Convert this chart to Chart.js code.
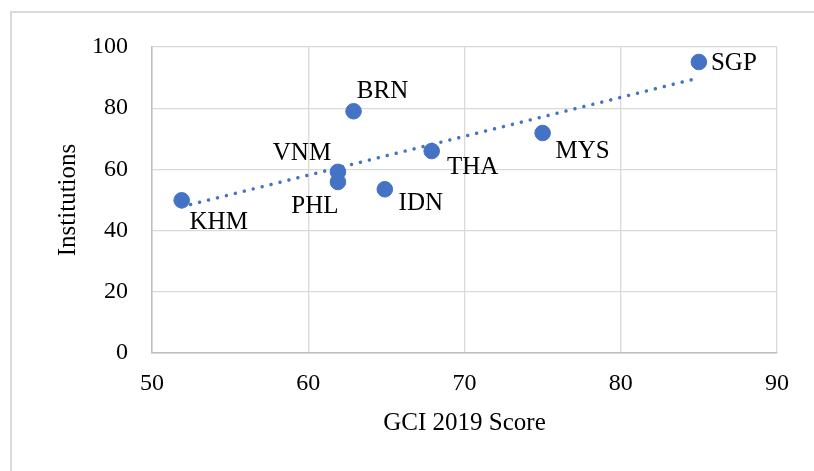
<!DOCTYPE html>
<html>
<head>
<meta charset="utf-8">
<script src="https://cdn.jsdelivr.net/npm/chart.js@4.4.0/dist/chart.umd.min.js"></script>
<style>
    html, body { margin: 0; padding: 0; background: #ffffff; }
    #wrap { position: relative; width: 814px; height: 471px; overflow: hidden; }
    #frame { position: absolute; left: 10px; top: 11px; width: 900px; height: 600px; border: 2px solid #d9d9d9; box-sizing: border-box; }
    canvas { position: absolute; left: 0; top: 0; }
</style>
</head>
<body>
<div id="wrap">
    <div id="frame"></div>
    <canvas id="scatterChart" width="814" height="471"></canvas>
</div>
<script>
// Country codes and their scores
const countries = ["KHM", "PHL", "VNM", "BRN", "IDN", "THA", "MYS", "SGP"];
const gciScore = [51.9, 61.9, 61.9, 62.9, 64.9, 67.9, 75.0, 85.0];
const institutions = [49.9, 55.9, 59.2, 79.0, 53.5, 66.0, 71.9, 95.1];

// Linear trendline ends
const trendX = [51.9, 85.0];
const trendY = [47.8, 89.9];

// Axis ticks
const xTicks = [50, 60, 70, 80, 90];
const yTicks = [0, 20, 40, 60, 80, 100];

// Where each data label sits relative to its point (px)
const labelOffsets = [[37, 21], [-23, 23], [-36, -19], [29, -21], [36, 13], [41, 15], [40, 17], [35, 0]];

const FONT = "'Liberation Serif', 'Times New Roman', serif";

// ===============================
// Data labels plugin
// ===============================
const pointLabels = {
    id: "pointLabels",
    afterDatasetsDraw(chart) {
        const ctx = chart.ctx;
        const meta = chart.getDatasetMeta(1);
        ctx.save();
        ctx.font = "25px " + FONT;
        ctx.fillStyle = "#000000";
        ctx.textAlign = "center";
        ctx.textBaseline = "middle";
        meta.data.forEach((pt, i) => {
            const off = labelOffsets[i];
            ctx.fillText(countries[i], pt.x + off[0], pt.y + off[1] + 1);
        });
        ctx.restore();
    }
};

new Chart(document.getElementById("scatterChart"), {
    type: "scatter",
    data: {
        datasets: [
            {
                type: "line",
                data: trendX.map((x, i) => ({ x: x, y: trendY[i] })),
                borderColor: "#4472C4",
                borderWidth: 3.5,
                borderDash: [0.01, 9.2],
                borderCapStyle: "round",
                pointRadius: 0,
                fill: false,
                order: 2
            },
            {
                data: gciScore.map((x, i) => ({ x: x, y: institutions[i] })),
                backgroundColor: "#4472C4",
                borderColor: "#4472C4",
                pointRadius: 7.8,
                pointHoverRadius: 7.8,
                order: 1
            }
        ]
    },
    options: {
        responsive: false,
        animation: false,
        layout: { padding: { top: 47, right: 37, left: 0, bottom: 0 } },
        plugins: {
            legend: { display: false },
            tooltip: { enabled: false }
        },
        scales: {
            x: {
                type: "linear",
                min: 50,
                max: 90,
                afterBuildTicks: scale => { scale.ticks = xTicks.map(v => ({ value: v })); },
                afterFit: scale => { scale.height = 118; },
                grid: { color: "#d9d9d9", lineWidth: 1.3, drawTicks: false },
                border: { color: "#bfbfbf", width: 1.5 },
                ticks: { color: "#000000", font: { family: FONT, size: 24 }, padding: 16 },
                title: {
                    display: true,
                    text: "GCI 2019 Score",
                    color: "#000000",
                    font: { family: FONT, size: 25 },
                    padding: { top: 0, bottom: 33 }
                }
            },
            y: {
                type: "linear",
                min: 0,
                max: 100,
                afterBuildTicks: scale => { scale.ticks = yTicks.map(v => ({ value: v })); },
                afterFit: scale => { scale.width = 152; },
                grid: { color: "#d9d9d9", lineWidth: 1.3, drawTicks: false },
                border: { color: "#bfbfbf", width: 1.5 },
                ticks: { color: "#000000", font: { family: FONT, size: 24 }, padding: 24 },
                title: {
                    display: true,
                    text: "Institutions",
                    color: "#000000",
                    font: { family: FONT, size: 25 },
                    padding: { top: 53, bottom: 0 }
                }
            }
        }
    },
    plugins: [pointLabels]
});
</script>
</body>
</html>
